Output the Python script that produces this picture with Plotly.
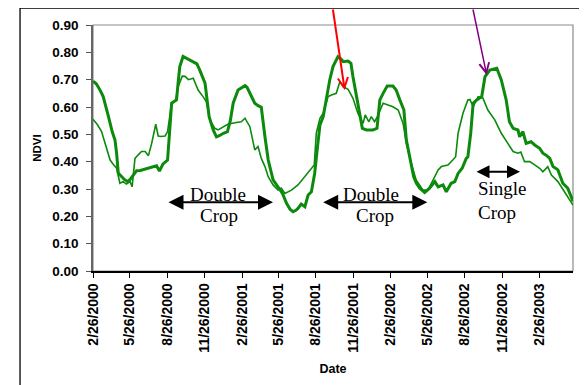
import pandas as pd
import plotly.graph_objects as go

base_date = pd.Timestamp("2000-02-26")

# Thick series: days since 2/26/2000 and NDVI
thick_days = [0, 8, 18, 25, 38, 47, 54, 58, 62, 70, 77, 85, 91, 99, 107, 116, 126, 136, 144, 156,
              163, 172, 183, 189, 193, 199, 205, 209, 213, 221, 234, 246, 255, 262, 275, 285, 295, 303,
              310, 320, 330, 337, 344, 356, 373, 378, 385, 397, 405, 413, 422, 430, 442, 454, 465, 475,
              484, 491, 498, 503, 511, 520, 528, 536, 544, 551, 557, 565, 573, 581, 589, 601, 609, 614,
              626, 633, 638, 646, 655, 661, 671, 680, 687, 697, 704, 712, 722, 736, 744, 753, 763, 769,
              779, 787, 794, 802, 814, 826, 839, 847, 859, 867, 879, 888, 896, 906, 916, 920, 927, 933,
              941, 954, 962, 974, 991, 1002, 1014, 1022, 1031, 1043, 1047, 1055, 1063, 1075, 1084, 1096,
              1104, 1112, 1121, 1129, 1141, 1153, 1165, 1178]
thick_ndvi = [0.695, 0.685, 0.660, 0.638, 0.565, 0.510, 0.479, 0.430, 0.358, 0.345, 0.335, 0.327, 0.335,
              0.351, 0.367, 0.368, 0.372, 0.376, 0.382, 0.385, 0.366, 0.392, 0.406, 0.528, 0.614, 0.620,
              0.626, 0.690, 0.748, 0.785, 0.775, 0.765, 0.758, 0.735, 0.687, 0.565, 0.516, 0.491, 0.495,
              0.504, 0.510, 0.550, 0.614, 0.662, 0.678, 0.672, 0.650, 0.614, 0.605, 0.599, 0.491, 0.406,
              0.333, 0.308, 0.284, 0.248, 0.225, 0.217, 0.222, 0.229, 0.245, 0.235, 0.278, 0.290, 0.357,
              0.455, 0.534, 0.565, 0.638, 0.699, 0.748, 0.784, 0.775, 0.766, 0.768, 0.760, 0.711, 0.650,
              0.577, 0.522, 0.516, 0.515, 0.516, 0.522, 0.626, 0.650, 0.677, 0.677, 0.662, 0.626, 0.589,
              0.479, 0.406, 0.345, 0.320, 0.303, 0.287, 0.303, 0.327, 0.308, 0.315, 0.290, 0.321, 0.327,
              0.357, 0.376, 0.412, 0.418, 0.504, 0.614, 0.625, 0.638, 0.711, 0.735, 0.742, 0.699, 0.626,
              0.546, 0.522, 0.516, 0.491, 0.510, 0.467, 0.473, 0.461, 0.449, 0.431, 0.424, 0.412, 0.382,
              0.370, 0.321, 0.303, 0.255]

# Thin series
thin_days = [0, 11, 21, 29, 42, 50, 58, 66, 74, 82, 91, 96, 103, 111, 119, 128, 136, 144, 154, 160, 167,
             177, 183, 193, 203, 209, 219, 226, 234, 246, 258, 270, 278, 287, 299, 307, 324, 332, 352, 364,
             373, 385, 397, 405, 413, 422, 430, 442, 454, 462, 471, 479, 487, 503, 520, 536, 543, 548, 557,
             565, 577, 585, 597, 606, 614, 626, 638, 650, 663, 668, 677, 683, 691, 698, 704, 712, 724, 736,
             749, 761, 769, 781, 793, 810, 822, 834, 847, 855, 871, 883, 890, 896, 908, 920, 925, 933, 945,
             957, 969, 986, 1002, 1018, 1031, 1043, 1050, 1059, 1072, 1084, 1097, 1104, 1116, 1125, 1141,
             1157, 1178]
thin_ndvi = [0.555, 0.535, 0.510, 0.467, 0.406, 0.390, 0.376, 0.321, 0.327, 0.318, 0.327, 0.308, 0.412,
             0.425, 0.437, 0.437, 0.422, 0.467, 0.537, 0.494, 0.492, 0.494, 0.510, 0.614, 0.626, 0.674,
             0.713, 0.712, 0.700, 0.705, 0.662, 0.638, 0.620, 0.553, 0.522, 0.516, 0.531, 0.538, 0.543,
             0.546, 0.559, 0.528, 0.443, 0.455, 0.412, 0.382, 0.345, 0.315, 0.296, 0.303, 0.284, 0.290,
             0.296, 0.315, 0.345, 0.376, 0.388, 0.504, 0.559, 0.577, 0.638, 0.644, 0.650, 0.693, 0.674,
             0.665, 0.632, 0.577, 0.540, 0.571, 0.546, 0.565, 0.546, 0.565, 0.589, 0.614, 0.607, 0.601,
             0.589, 0.540, 0.467, 0.394, 0.333, 0.296, 0.296, 0.333, 0.370, 0.382, 0.388, 0.406, 0.418,
             0.504, 0.577, 0.626, 0.628, 0.601, 0.638, 0.632, 0.589, 0.553, 0.504, 0.467, 0.437, 0.431,
             0.435, 0.400, 0.400, 0.388, 0.375, 0.363, 0.382, 0.351, 0.327, 0.290, 0.241]

tick_labels = ["2/26/2000", "5/26/2000", "8/26/2000", "11/26/2000", "2/26/2001", "5/26/2001",
               "8/26/2001", "11/26/2001", "2/26/2002", "5/26/2002", "8/26/2002", "11/26/2002",
               "2/26/2003"]
y_ticks = [0.0, 0.1, 0.2, 0.3, 0.4, 0.5, 0.6, 0.7, 0.8, 0.9]
x_end_days = 1178

thick_dates = [base_date + pd.Timedelta(days=d) for d in thick_days]
thin_dates = [base_date + pd.Timedelta(days=d) for d in thin_days]
tick_dates = [pd.to_datetime(t, format="%m/%d/%Y") for t in tick_labels]

GREEN = "#0b8a0b"

fig = go.Figure()
fig.add_trace(go.Scatter(x=thin_dates, y=thin_ndvi, mode="lines",
                         line=dict(color=GREEN, width=1.6), showlegend=False))
fig.add_trace(go.Scatter(x=thick_dates, y=thick_ndvi, mode="lines",
                         line=dict(color=GREEN, width=3), showlegend=False))

# The page body adds an 8px offset, so margins are reduced by 8px on the left/top.
fig.update_layout(
    width=587, height=385,
    margin=dict(l=85, r=22, t=17, b=122, autoexpand=False),
    paper_bgcolor="white", plot_bgcolor="white",
    showlegend=False,
    font=dict(family="Arial, Liberation Sans, sans-serif", color="black"),
)

fig.update_xaxes(
    range=[base_date, base_date + pd.Timedelta(days=x_end_days)],
    tickmode="array", tickvals=tick_dates, ticktext=[f"<b>{t}</b>" for t in tick_labels],
    tickangle=-90, ticks="outside", ticklen=5, tickcolor="black", tickwidth=1,
    showline=True, linecolor="black", linewidth=1.5, showgrid=False, zeroline=False,
    tickfont=dict(size=14, family="Liberation Sans, Arial", color="black"),
    title=dict(text="<b>Date</b>", font=dict(size=12.5, family="Liberation Sans, Arial"), standoff=13),
)
fig.update_yaxes(
    range=[0, 0.9], tickmode="array", tickvals=y_ticks,
    ticktext=[f"<b>{v:.2f}</b>" for v in y_ticks],
    ticks="outside", ticklen=5, tickcolor="#555555", tickwidth=1, ticklabelstandoff=5,
    showline=True, linecolor="#666666", linewidth=1.5, showgrid=False, zeroline=False,
    tickfont=dict(size=13.5, family="Liberation Sans, Arial", color="black"),
    title=dict(text="<b>NDVI</b>", font=dict(size=11.5, family="Liberation Sans, Arial"), standoff=8),
)

shapes = [
    # gray plot frame (top/right)
    dict(type="rect", xref="paper", yref="paper", x0=0, y0=0, x1=1, y1=1,
         line=dict(color="#8c8c8c", width=1.2), layer="below"),
    # outer chart border (extends past the visible window)
    dict(type="rect", xref="paper", yref="paper", x0=-0.152, y0=-0.8, x1=1.2, y1=1.069,
         line=dict(color="black", width=1.3), layer="below"),
]
fig.update_layout(shapes=shapes)

serif = dict(family="Liberation Serif, Times New Roman, serif", size=19, color="black")

def px_x(p):
    return (p - 93) / 480.0

def px_y(p):
    return (271 - p) / 246.0

annotations = [
    # double-headed arrows
    dict(xref="paper", yref="paper", x=px_x(273), y=px_y(202.3), ax=-106, ay=0, text="",
         showarrow=True, arrowhead=2, startarrowhead=2, arrowside="end+start",
         arrowsize=1.5, startarrowsize=1.5, arrowwidth=2, arrowcolor="black", standoff=0, startstandoff=0),
    dict(xref="paper", yref="paper", x=px_x(427.3), y=px_y(202.3), ax=-105.6, ay=0, text="",
         showarrow=True, arrowhead=2, startarrowhead=2, arrowside="end+start",
         arrowsize=1.5, startarrowsize=1.5, arrowwidth=2, arrowcolor="black", standoff=0, startstandoff=0),
    dict(xref="paper", yref="paper", x=px_x(520), y=px_y(171.7), ax=-45, ay=0, text="",
         showarrow=True, arrowhead=2, startarrowhead=2, arrowside="end+start",
         arrowsize=1.3, startarrowsize=1.3, arrowwidth=2, arrowcolor="black", standoff=0, startstandoff=0),
    # red and purple pointer arrows
    dict(xref="paper", yref="paper", x=px_x(344.7), y=px_y(90), ax=-12, ay=-96, text="",
         showarrow=True, arrowhead=5, arrowsize=1, arrowwidth=2, arrowcolor="#ff0000", standoff=0),
    dict(xref="paper", yref="paper", x=px_x(486.7), y=px_y(75), ax=-14, ay=-80, text="",
         showarrow=True, arrowhead=5, arrowsize=1.3, arrowwidth=1.5, arrowcolor="#800080", standoff=0),
    # labels
    dict(xref="paper", yref="paper", x=px_x(218), y=px_y(194), text="Double", showarrow=False,
         font=serif, xanchor="center", yanchor="middle"),
    dict(xref="paper", yref="paper", x=px_x(219), y=px_y(215), text="Crop", showarrow=False,
         font=serif, xanchor="center", yanchor="middle"),
    dict(xref="paper", yref="paper", x=px_x(371), y=px_y(194), text="Double", showarrow=False,
         font=serif, xanchor="center", yanchor="middle"),
    dict(xref="paper", yref="paper", x=px_x(375), y=px_y(215), text="Crop", showarrow=False,
         font=serif, xanchor="center", yanchor="middle"),
    dict(xref="paper", yref="paper", x=px_x(476), y=px_y(188), text="Single", showarrow=False,
         font=serif, xanchor="left", yanchor="middle"),
    dict(xref="paper", yref="paper", x=px_x(476), y=px_y(212), text="Crop", showarrow=False,
         font=serif, xanchor="left", yanchor="middle"),
]
fig.update_layout(annotations=annotations)

fig.write_html("out.html")
